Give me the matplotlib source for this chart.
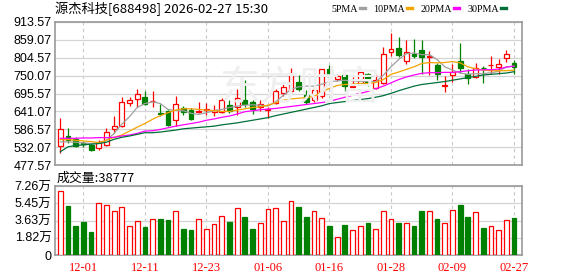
import matplotlib
matplotlib.use("Agg")
import matplotlib.pyplot as plt
from matplotlib.patches import Rectangle
from matplotlib.lines import Line2D

# ---------------------------------------------------------------
# dados (60 pregoes, 2025-11-26 .. 2026-02-27)
# ---------------------------------------------------------------
dates = ["11-26", "11-27", "11-28", "12-01", "12-02", "12-03", "12-04", "12-05",
         "12-08", "12-09", "12-10", "12-11", "12-12", "12-15", "12-16", "12-17",
         "12-18", "12-19", "12-22", "12-23", "12-24", "12-25", "12-26", "12-29",
         "12-30", "12-31", "01-05", "01-06", "01-07", "01-08", "01-09", "01-12",
         "01-13", "01-14", "01-15", "01-16", "01-19", "01-20", "01-21", "01-22",
         "01-23", "01-26", "01-27", "01-28", "01-29", "01-30", "02-02", "02-03",
         "02-04", "02-05", "02-06", "02-09", "02-10", "02-11", "02-12", "02-13",
         "02-24", "02-25", "02-26", "02-27"]

opens = [536, 566, 557, 544, 540, 530, 540, 588, 598, 668, 680, 684,
         672, 635, 642, 614, 650, 645, 638, 645, 639, 640, 659, 653,
         675, 669, 653, 646, 668, 696, 702, 730, 692, 677, 688, 769,
         740, 751, 716, 726, 754, 713, 728, 822, 833, 796, 817, 829,
         806, 782, 719, 751, 796, 756, 746, 773, 781, 777, 805, 790]
highs = [620, 590, 563, 552, 543, 553, 591, 627, 684, 686, 709, 704,
         704, 663, 645, 688, 657, 650, 669, 666, 659, 681, 675, 709,
         738, 675, 675, 655, 708, 731, 774, 752, 706, 714, 771, 781,
         756, 754, 746, 773, 758, 756, 836, 880, 868, 860, 863, 858,
         824, 789, 748, 784, 851, 769, 789, 780, 809, 802, 828, 797]
lows = [515, 545, 533, 531, 521, 523, 535, 574, 594, 658, 655, 662,
        653, 627, 596, 596, 631, 616, 637, 631, 627, 637, 635, 629,
        655, 632, 643, 620, 665, 687, 696, 702, 665, 670, 683, 744,
        733, 704, 714, 723, 718, 708, 726, 810, 807, 787, 805, 756,
        751, 738, 701, 731, 759, 726, 743, 727, 756, 756, 792, 756]
closes = [587, 554, 536, 541, 523, 548, 577, 598, 669, 675, 694, 664,
          674, 633, 599, 665, 639, 618, 642, 647, 645, 677, 643, 683,
          663, 647, 663, 648, 703, 714, 754, 709, 670, 706, 769, 749,
          750, 718, 718, 762, 724, 736, 817, 832, 812, 822, 809, 807,
          810, 754, 721, 760, 772, 742, 772, 772, 783, 787, 817, 775]

# volume em 万 (dez mil)
volumes = [6.73, 5.19, 3.10, 3.52, 2.47, 5.47, 5.30, 4.63, 5.05, 3.06, 3.59, 2.99,
           3.79, 3.83, 3.72, 4.63, 2.78, 2.68, 3.79, 2.75, 3.31, 4.11, 3.52, 4.95,
           4.04, 2.78, 3.38, 4.88, 4.95, 3.59, 5.68, 5.09, 4.04, 4.63, 3.90, 3.10,
           1.91, 3.20, 2.64, 3.06, 3.41, 2.75, 4.63, 3.79, 3.41, 3.38, 3.10, 4.67,
           4.63, 3.83, 3.41, 4.74, 5.26, 4.04, 4.53, 2.89, 3.06, 2.64, 3.69, 3.88]

ma5 = [548, 548, 547, 545, 543, 545, 553, 574, 602, 625, 653, 665,
       670, 665, 647, 643, 643, 635, 632, 637, 643, 647, 653, 657,
       660, 661, 660, 657, 670, 690, 708, 716, 718, 718, 724, 731,
       734, 736, 734, 733, 733, 731, 751, 777, 799, 817, 819, 814,
       814, 799, 777, 767, 758, 754, 756, 756, 759, 763, 777, 779]
ma10 = [555, 555, 553, 551, 549, 546, 553, 562, 569, 581, 593, 604,
        617, 628, 637, 645, 649, 649, 647, 645, 643, 641, 641, 645,
        649, 653, 655, 660, 667, 675, 679, 681, 683, 687, 701, 711,
        720, 723, 724, 726, 726, 729, 738, 754, 761, 769, 777, 787,
        790, 789, 790, 793, 789, 777, 771, 767, 765, 765, 765, 767]
ma20 = [559, 559, 559, 560, 560, 561, 561, 562, 566, 569, 574, 581,
        582, 586, 591, 596, 600, 604, 608, 614, 618, 623, 627, 633,
        640, 643, 646, 648, 650, 653, 656, 659, 662, 665, 668, 672,
        678, 684, 690, 696, 702, 710, 718, 728, 738, 746, 752, 757,
        759, 759, 760, 760, 762, 765, 767, 768, 768, 770, 776, 779]
ma30 = [518, 533, 537, 539, 541, 543, 547, 556, 562, 566, 571, 576,
        576, 578, 581, 584, 588, 590, 592, 594, 596, 600, 603, 606,
        610, 614, 618, 622, 628, 633, 638, 643, 648, 653, 658, 665,
        668, 671, 674, 677, 680, 684, 689, 696, 704, 711, 718, 723,
        726, 729, 732, 736, 740, 744, 748, 752, 754, 756, 758, 762]

tick_dates = ["12-01", "12-11", "12-23", "01-06", "01-16", "01-28", "02-09", "02-27"]
price_ticks = [477.57, 532.07, 586.57, 641.07, 695.57, 750.07, 804.57, 859.07, 913.57]
vol_ticks = [0, 1.82, 3.63, 5.45, 7.26]
title = "源杰科技[688498] 2026-02-27 15:30"
last_volume = 38777

RED = "#ff0000"
GREEN = "#008000"
FRAME = "#999999"
GRID = "#d4d4d4"

ma_series = [("5PMA", ma5, "#a0a0a0"), ("10PMA", ma10, "#f5a300"),
             ("20PMA", ma20, "#ff00ff"), ("30PMA", ma30, "#00703a")]

plt.rcParams["font.family"] = ["Liberation Sans", "Noto Sans CJK SC"]

fig = plt.figure(figsize=(5.78, 2.76), dpi=100)
W, H = 578, 276
ax = fig.add_axes([55 / W, 1 - 165 / H, 467 / W, 143 / H])
axv = fig.add_axes([55 / W, 1 - 255 / H, 467 / W, 69 / H])

n = len(closes)
x = list(range(n))
up = [c >= o for o, c in zip(opens, closes)]
xt = [dates.index(d) for d in tick_dates]

for a in (ax, axv):
    a.set_xlim(-0.69, n + 0.04)
    for s in a.spines.values():
        s.set_color(FRAME)
        s.set_linewidth(1.2)
    a.tick_params(length=0, labelsize=9, pad=2.5)
    a.set_xticks(xt)
    a.grid(axis="y", color=GRID, lw=0.9, zorder=0)
    a.grid(axis="x", color="#c8c8c8", lw=0.8, linestyle=(0, (3, 3)), zorder=0)
    a.set_axisbelow(True)

# marca d'agua
fig.text(300 / W, 1 - 88 / H, "东方财富", fontsize=29, color="#efefef",
         ha="center", va="center", family="Noto Sans CJK SC", zorder=0)

# ---------------------------------------------------------------
# candles
# ---------------------------------------------------------------
bw = 0.64
for i in x:
    col = RED if up[i] else GREEN
    ax.vlines(i, lows[i], highs[i], color=col, lw=0.9, zorder=3)
    lo = min(opens[i], closes[i])
    h = max(abs(closes[i] - opens[i]), 0.4)
    ax.add_patch(Rectangle((i - bw / 2, lo), bw, h, facecolor="white" if up[i] else GREEN,
                           edgecolor=col, lw=0.9, zorder=4))

for name, vals, col in ma_series:
    ax.plot(x, vals, color=col, lw=0.9, zorder=5, label=name)

ax.set_ylim(price_ticks[0], price_ticks[-1])
ax.set_yticks(price_ticks)
ax.set_yticklabels([f"{p:.2f}" for p in price_ticks])
ax.set_xticklabels([])

handles = [Line2D([], [], color=col, lw=2.4) for _, _, col in ma_series]
fig.legend(handles, [m[0] for m in ma_series], ncol=4, markerfirst=False,
           loc="center right", bbox_to_anchor=(511 / W, 1 - 9 / H), frameon=False,
           handlelength=0.5, handletextpad=0.2, columnspacing=0.85, borderpad=0,
           prop={"family": "Liberation Serif", "size": 7.2})

fig.text(55 / W, 1 - 9 / H, title, fontsize=9.5, ha="left", va="center",
         family=["Noto Sans CJK SC"])

# ---------------------------------------------------------------
# volume
# ---------------------------------------------------------------
axv.bar(x, volumes, width=0.62, color=["white" if u else GREEN for u in up],
        edgecolor=[RED if u else GREEN for u in up], lw=0.9, zorder=3)
axv.set_ylim(0, vol_ticks[-1])
axv.set_yticks(vol_ticks)
axv.set_yticklabels(["0"] + [f"{v:.2f}万" for v in vol_ticks[1:]])
axv.set_xticklabels(tick_dates, color=RED, family="Liberation Serif", fontsize=9)
axv.tick_params(axis="x", pad=5)

fig.text(57 / W, 1 - 178 / H, f"成交量:{last_volume}", fontsize=9.3, ha="left",
         va="center", family=["Noto Sans CJK SC"])

fig.savefig("out.png", dpi=100)
